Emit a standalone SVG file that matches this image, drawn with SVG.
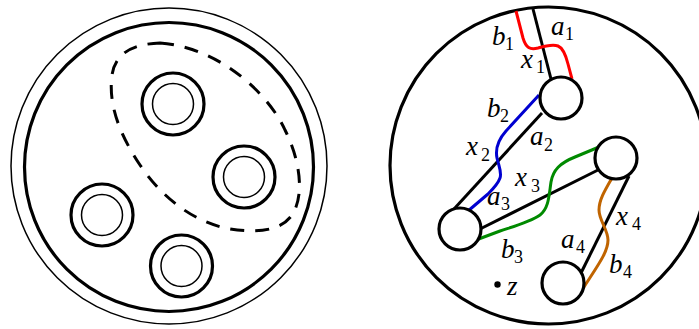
<svg xmlns="http://www.w3.org/2000/svg" width="699" height="329" viewBox="0 0 699 329">
<style>
.thin{fill:none;stroke:#000;stroke-width:1.5}
.thick{fill:none;stroke:#000;stroke-width:3.2}
.hole{fill:#fff;stroke:#000;stroke-width:3.2}
.strand{fill:none;stroke-width:3;stroke-linecap:butt;stroke-linejoin:round}
.lbl{font-family:"Liberation Serif","DejaVu Serif",serif;font-style:italic;font-size:27px;fill:#000}
.sub{font-family:"Liberation Serif","DejaVu Serif",serif;font-size:18px;fill:#000}
</style>
<rect width="699" height="329" fill="#fff"/>
<g id="left-disk">
  <circle class="thin" cx="169" cy="166" r="158"/>
  <circle class="thick" cx="169" cy="167" r="144.5"/>
</g>
<g id="left-region">
  <path d="M 160,43 C 225,48 272,100 285,130 C 300,160 305,195 292,215 C 280,233 250,233 225,228 C 190,220 160,195 140,165 C 120,135 108,105 112,75 C 115,55 130,44 160,43 Z" fill="none" stroke="#000" stroke-width="3" stroke-dasharray="14 11"/>
</g>
<g id="annulus-1"><circle class="thick" cx="173" cy="104" r="31"/><circle class="thin" cx="173" cy="104" r="20.5"/></g>
<g id="annulus-2"><circle class="thick" cx="244" cy="177" r="31"/><circle class="thin" cx="244" cy="177" r="20.5"/></g>
<g id="annulus-3"><circle class="thick" cx="102" cy="215" r="31"/><circle class="thin" cx="102" cy="215" r="20.5"/></g>
<g id="annulus-4"><circle class="thick" cx="181.5" cy="266" r="31"/><circle class="thin" cx="181.5" cy="266" r="20.5"/></g>
<g id="right-disk">
  <circle class="thick" cx="548.5" cy="165.5" r="158.5"/>
</g>
<g id="connectors">
  <line class="strand" stroke="#000" x1="533" y1="9" x2="551" y2="79"/>
  <path class="strand" stroke="#ff0000" d="M 516,11 L 523,38 C 526,48 530,50 538,48 C 545,46 552,44 558,46 C 563,48 566,56 568,64 L 572,79"/>
  <line class="strand" stroke="#000" x1="542" y1="113" x2="454" y2="209"/>
  <path class="strand" stroke="#0000d0" d="M 539,95 L 506,131 C 498,140 495,148 497,158 C 499,167 502,172 500,178 C 498,184 494,188 488,194 L 468,211"/>
  <line class="strand" stroke="#000" x1="480" y1="229" x2="598" y2="170"/>
  <path class="strand" stroke="#008a00" d="M 599,147 L 575,157 C 560,163 553,170 551,182 C 549,195 549,208 540,215 C 530,222 515,226 500,231 L 476,240"/>
  <line class="strand" stroke="#000" x1="629" y1="176" x2="581" y2="273"/>
  <path class="strand" stroke="#c06400" d="M 612,178 C 605,190 599,200 599,210 C 599,220 608,230 608,240 C 608,252 598,265 584,287"/>
</g>
<g id="hole-A"><circle class="hole" cx="561" cy="98" r="21"/></g>
<g id="hole-B"><circle class="hole" cx="616" cy="158" r="21"/></g>
<g id="hole-C"><circle class="hole" cx="460" cy="229" r="21"/></g>
<g id="hole-D"><circle class="hole" cx="563" cy="283" r="21"/></g>
<g id="point-z"><circle cx="497.5" cy="284.5" r="3.2" fill="#000"/><text class="lbl" x="507" y="295">z</text></g>
<g id="labels">
  <text class="lbl" x="492" y="45">b</text><text class="sub" x="505" y="50">1</text>
  <text class="lbl" x="551" y="35">a</text><text class="sub" x="565" y="40">1</text>
  <text class="lbl" x="521" y="68">x</text><text class="sub" x="536" y="73">1</text>
  <text class="lbl" x="487" y="117">b</text><text class="sub" x="500" y="122">2</text>
  <text class="lbl" x="530" y="145">a</text><text class="sub" x="544" y="151">2</text>
  <text class="lbl" x="466" y="155">x</text><text class="sub" x="481" y="161">2</text>
  <text class="lbl" x="515" y="186">x</text><text class="sub" x="531" y="192">3</text>
  <text class="lbl" x="487" y="205">a</text><text class="sub" x="501" y="210">3</text>
  <text class="lbl" x="501" y="258">b</text><text class="sub" x="514" y="263">3</text>
  <text class="lbl" x="616" y="225">x</text><text class="sub" x="632" y="230">4</text>
  <text class="lbl" x="561" y="248">a</text><text class="sub" x="576" y="253">4</text>
  <text class="lbl" x="609" y="273">b</text><text class="sub" x="623" y="278">4</text>
</g>
</svg>
